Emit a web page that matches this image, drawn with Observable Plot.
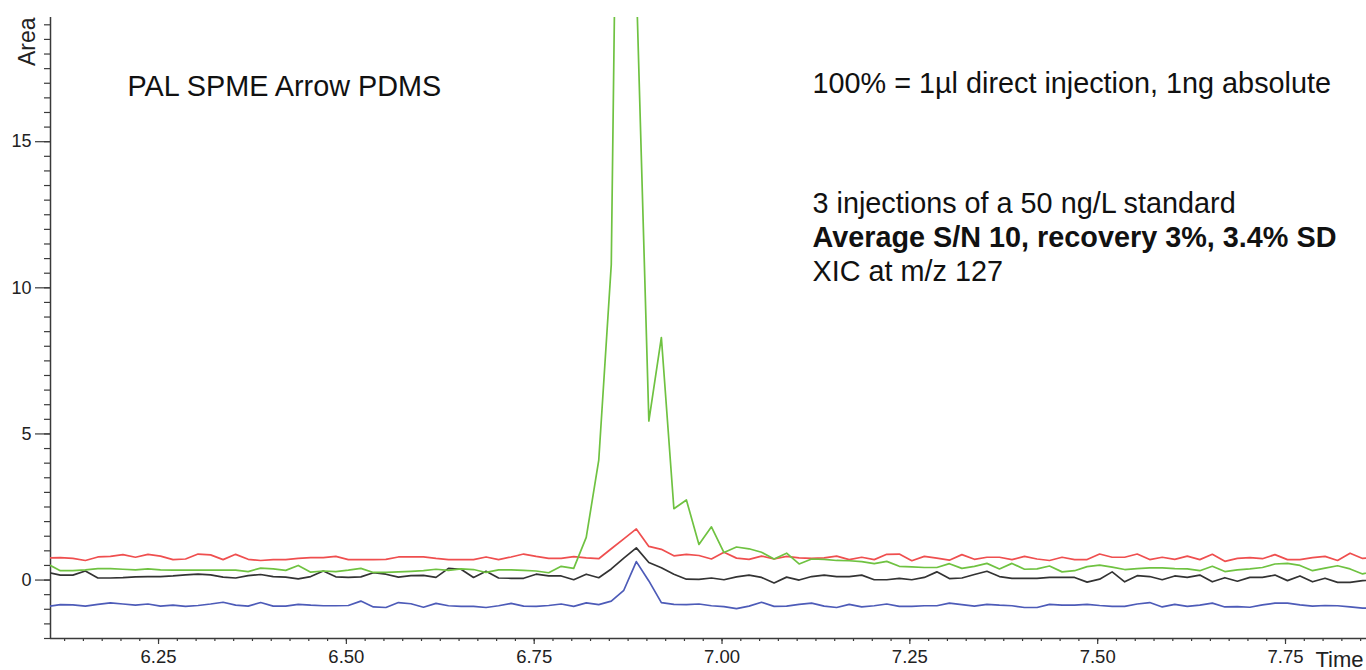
<!DOCTYPE html>
<html>
<head>
<meta charset="utf-8">
<script src="https://cdn.jsdelivr.net/npm/d3@7"></script>
<script src="https://cdn.jsdelivr.net/npm/@observablehq/plot@0.6"></script>
<style>
  html, body { margin: 0; padding: 0; background: #fff; overflow: hidden; }
  #chart svg { display: block; }
</style>
</head>
<body>
<div id="chart"></div>
<script>
// Acquisition: one scan per second, first scan of the window at 6.1026 min
const scanStart = 6.1026;
const scanStep = 1 / 60;

// XIC m/z 127 traces (area units), one value per scan
const directInjection = [
  0.55, 0.32, 0.32, 0.35, 0.39, 0.39, 0.37, 0.35, 0.38, 0.35,
  0.34, 0.34, 0.34, 0.34, 0.34, 0.34, 0.29, 0.41, 0.38, 0.33,
  0.50, 0.27, 0.31, 0.29, 0.34, 0.40, 0.26, 0.26, 0.28, 0.30,
  0.32, 0.37, 0.33, 0.38, 0.36, 0.26, 0.35, 0.35, 0.33, 0.31,
  0.25, 0.47, 0.40, 1.46, 4.1, 10.8, 45.0, 20.5, 5.44, 8.3,
  2.44, 2.74, 1.22, 1.82, 0.94, 1.13, 1.07, 0.95, 0.72, 0.92,
  0.55, 0.72, 0.71, 0.67, 0.66, 0.63, 0.56, 0.64, 0.47, 0.45,
  0.43, 0.43, 0.56, 0.40, 0.47, 0.57, 0.38, 0.57, 0.37, 0.38,
  0.48, 0.28, 0.32, 0.46, 0.51, 0.44, 0.36, 0.39, 0.42, 0.42,
  0.39, 0.38, 0.32, 0.47, 0.29, 0.35, 0.38, 0.43, 0.55, 0.57,
  0.50, 0.32, 0.41, 0.49, 0.38, 0.21, 0.32
];

const spmeInjection1 = [
  0.76, 0.77, 0.74, 0.67, 0.79, 0.81, 0.87, 0.78, 0.88, 0.82,
  0.70, 0.72, 0.89, 0.86, 0.70, 0.88, 0.71, 0.67, 0.70, 0.70,
  0.74, 0.77, 0.77, 0.81, 0.70, 0.70, 0.70, 0.71, 0.79, 0.79,
  0.79, 0.74, 0.70, 0.70, 0.70, 0.79, 0.70, 0.79, 0.89, 0.81,
  0.74, 0.74, 0.80, 0.76, 0.73, 1.07, 1.41, 1.75, 1.15, 1.05,
  0.83, 0.88, 0.84, 0.72, 0.95, 0.75, 0.71, 0.82, 0.72, 0.81,
  0.76, 0.74, 0.76, 0.82, 0.70, 0.78, 0.70, 0.88, 0.89, 0.66,
  0.81, 0.75, 0.68, 0.87, 0.71, 0.78, 0.78, 0.70, 0.81, 0.72,
  0.67, 0.78, 0.70, 0.70, 0.89, 0.78, 0.78, 0.89, 0.70, 0.78,
  0.71, 0.82, 0.70, 0.88, 0.64, 0.74, 0.77, 0.73, 0.87, 0.70,
  0.70, 0.77, 0.81, 0.67, 0.92, 0.74, 0.78
];

const spmeInjection2 = [
  0.26, 0.17, 0.17, 0.31, 0.07, 0.07, 0.08, 0.11, 0.12, 0.12,
  0.14, 0.18, 0.20, 0.18, 0.10, 0.07, 0.15, 0.19, 0.12, 0.10,
  0.04, 0.12, 0.31, 0.11, 0.09, 0.11, 0.25, 0.20, 0.10, 0.15,
  0.16, 0.09, 0.40, 0.37, 0.09, 0.30, 0.07, 0.06, 0.06, 0.20,
  0.14, 0.14, 0.01, 0.20, 0.08, 0.38, 0.75, 1.10, 0.60, 0.42,
  0.20, 0.03, 0.02, 0.07, 0.01, 0.11, 0.17, 0.09, -0.10, 0.10,
  0.00, 0.12, 0.17, 0.12, 0.12, 0.17, 0.01, 0.01, 0.06, 0.01,
  0.09, 0.28, 0.05, 0.07, 0.19, 0.30, 0.12, 0.06, 0.06, 0.06,
  0.09, 0.09, 0.09, -0.07, 0.03, 0.28, -0.06, 0.15, 0.12, 0.01,
  0.14, 0.09, 0.17, -0.06, 0.08, -0.04, 0.09, 0.09, 0.17, -0.02,
  0.14, -0.06, 0.06, -0.08, -0.08, -0.02, 0.00
];

const spmeInjection3 = [
  -0.90, -0.84, -0.85, -0.89, -0.83, -0.78, -0.82, -0.86, -0.82, -0.89,
  -0.86, -0.90, -0.87, -0.82, -0.76, -0.86, -0.89, -0.77, -0.89, -0.89,
  -0.83, -0.86, -0.88, -0.88, -0.87, -0.72, -0.92, -0.94, -0.77, -0.81,
  -0.93, -0.80, -0.88, -0.90, -0.90, -0.94, -0.88, -0.80, -0.89, -0.90,
  -0.87, -0.82, -0.90, -0.78, -0.84, -0.72, -0.35, 0.63, -0.03, -0.77,
  -0.83, -0.84, -0.82, -0.88, -0.91, -0.98, -0.89, -0.76, -0.90, -0.89,
  -0.83, -0.79, -0.89, -0.94, -0.83, -0.92, -0.88, -0.82, -0.90, -0.90,
  -0.88, -0.88, -0.79, -0.84, -0.89, -0.83, -0.86, -0.88, -0.94, -0.94,
  -0.83, -0.86, -0.86, -0.83, -0.87, -0.90, -0.90, -0.82, -0.77, -0.92,
  -0.83, -0.90, -0.86, -0.79, -0.92, -0.91, -0.93, -0.85, -0.79, -0.79,
  -0.85, -0.89, -0.87, -0.88, -0.92, -0.96, -0.97
];

// Axes
const xDomain = [6.1062, 7.8578];
const yDomain = [-2, 19.25];
const xMajorTicks = [6.25, 6.5, 6.75, 7.0, 7.25, 7.5, 7.75];
const xTickLabels = ["6.25", "6.50", "6.75", "7.00", "7.25", "7.50", "7.75"];
const yMajorTicks = [0, 5, 10, 15];
const yTickLabels = ["0", "5", "10", "15"];

// Annotations
const methodLabel = "PAL SPME Arrow PDMS";
const referenceLabel = "100% = 1µl direct injection, 1ng absolute";
const noteLines = ["3 injections of a 50 ng/L standard", "XIC at m/z 127"];
const resultLine = "Average S/N 10, recovery 3%, 3.4% SD";

const time = directInjection.map((_, i) => scanStart + i * scanStep);

const xMinorTicks = d3.range(6.125, 7.86, 0.025);
const yMinorTicks = d3.range(-2, 19.01, 0.5);

const axisColor = "#3a3a3a";
const font = "Liberation Sans, Arial, Helvetica, sans-serif";
const noteSize = 28.8;

const trace = (values, color) =>
  Plot.line(values, {x: (d, i) => time[i], y: d => d, stroke: color, strokeWidth: 1.7, clip: true});

const note = (label, dx, dy, extra = {}) =>
  Plot.text([label], {frameAnchor: "top-left", text: d => d, textAnchor: "start", lineAnchor: "top",
    dx, dy, fontSize: noteSize, fill: "#111", ...extra});

const chart = Plot.plot({
  width: 1366,
  height: 670,
  marginLeft: 50,
  marginRight: 0,
  marginTop: 17,
  marginBottom: 32,
  x: {domain: xDomain},
  y: {domain: yDomain},
  style: {fontFamily: font, color: "#222", background: "#fff", overflow: "visible"},
  marks: [
    // y axis: half-unit minor ticks, labelled majors
    Plot.axisY({ticks: yMinorTicks, tickSize: 6, tickFormat: () => "", label: null, stroke: axisColor, strokeWidth: 1.2}),
    Plot.axisY({ticks: yMajorTicks, tickSize: 15, tickPadding: 4, tickFormat: (d, i) => yTickLabels[i],
      fontSize: 18, label: null, stroke: axisColor, strokeWidth: 1.2}),
    // x axis
    Plot.axisX({ticks: xMinorTicks, tickSize: 3, tickFormat: () => "", label: null, stroke: axisColor, strokeWidth: 1.2}),
    Plot.axisX({ticks: xMajorTicks, tickSize: 6, tickPadding: 5, tickFormat: (d, i) => xTickLabels[i],
      fontSize: 18.5, label: null, stroke: axisColor, strokeWidth: 1.2}),
    Plot.ruleX([xDomain[0]], {stroke: axisColor, strokeWidth: 1.5}),
    Plot.ruleY([yDomain[0]], {stroke: axisColor, strokeWidth: 1.5}),

    // traces
    trace(spmeInjection2, "#333333"),
    trace(spmeInjection3, "#4d5bb8"),
    trace(spmeInjection1, "#ef4f4f"),
    trace(directInjection, "#6fc241"),

    // axis titles
    Plot.text(["Area"], {frameAnchor: "top-left", text: d => d, rotate: -90, textAnchor: "end",
      lineAnchor: "bottom", dx: -16, dy: 0, fontSize: 23, fill: "#222"}),
    Plot.text(["Time"], {frameAnchor: "bottom-right", text: d => d, textAnchor: "end",
      lineAnchor: "bottom", dx: -3, dy: 28, fontSize: 22, fill: "#222"}),

    // annotations
    note(methodLabel, 77, 58),
    note(referenceLabel, 762, 55),
    note(noteLines[0], 762, 175),
    note(resultLine, 762, 209, {fontWeight: "bold"}),
    note(noteLines[1], 762, 243)
  ]
});

document.getElementById("chart").append(chart);
</script>
</body>
</html>
